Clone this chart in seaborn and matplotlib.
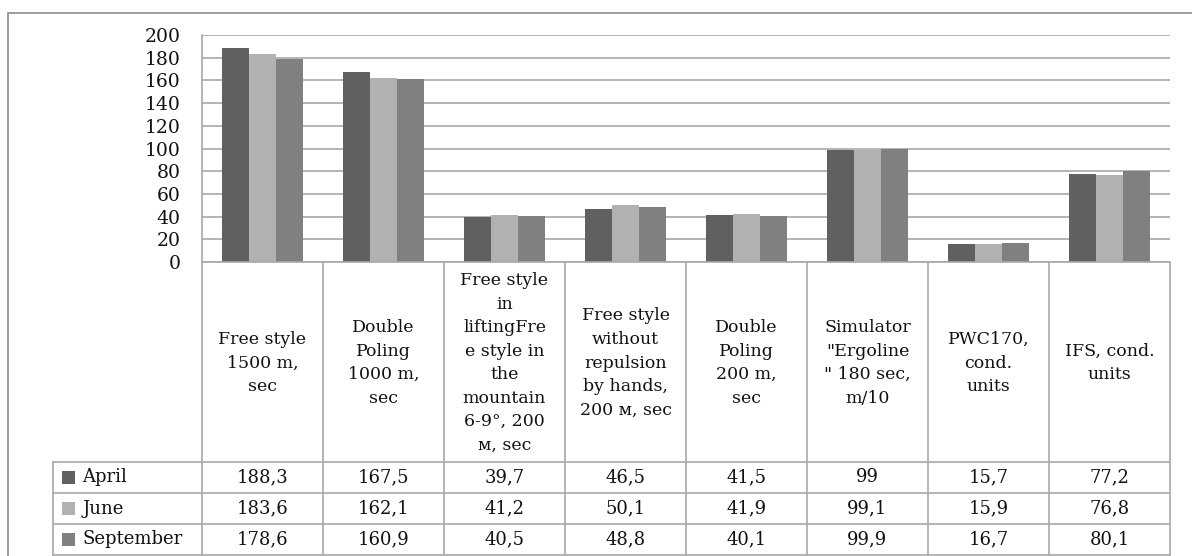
import matplotlib
matplotlib.use("Agg")
import matplotlib.pyplot as plt
import matplotlib.transforms as mtransforms
from matplotlib.patches import Rectangle
import seaborn as sns
import pandas as pd

categories = [
    "Free style\n1500 m,\nsec",
    "Double\nPoling\n1000 m,\nsec",
    "Free style\nin\nliftingFre\ne style in\nthe\nmountain\n6-9°, 200\nм, sec",
    "Free style\nwithout\nrepulsion\nby hands,\n200 м, sec",
    "Double\nPoling\n200 m,\nsec",
    "Simulator\n\"Ergoline\n\" 180 sec,\nm/10",
    "PWC170,\ncond.\nunits",
    "IFS, cond.\nunits",
]
series_names = ["April", "June", "September"]
april = [188.3, 167.5, 39.7, 46.5, 41.5, 99, 15.7, 77.2]
june = [183.6, 162.1, 41.2, 50.1, 41.9, 99.1, 15.9, 76.8]
september = [178.6, 160.9, 40.5, 48.8, 40.1, 99.9, 16.7, 80.1]
y_ticks = [0, 20, 40, 60, 80, 100, 120, 140, 160, 180, 200]

colors = ["#606060", "#b1b1b1", "#808080"]
series_values = [april, june, september]

rows = []
for name, vals in zip(series_names, series_values):
    for i, v in enumerate(vals):
        rows.append({"cat": i, "Month": name, "value": v})
df = pd.DataFrame(rows)

sns.set_theme(style="white")
plt.rcParams["font.family"] = ["DejaVu Serif"]

W, H = 1192, 556
fig = plt.figure(figsize=(W / 100, H / 100), dpi=100)

def fy(px):
    return 1 - px / H

def fx(px):
    return px / W

ax_left, ax_right, ax_top, ax_bottom = 202, 1170, 35, 262
ax = fig.add_axes([fx(ax_left), fy(ax_bottom), fx(ax_right - ax_left), fy(ax_top) - fy(ax_bottom)])

sns.barplot(data=df, x="cat", y="value", hue="Month", hue_order=series_names,
            palette=colors, saturation=1, width=0.67, ax=ax, legend=False,
            errorbar=None, linewidth=0)

ax.set_xlim(-0.5, len(categories) - 0.5)
ax.set_ylim(0, 200)
ax.set_yticks(y_ticks)
ax.set_yticklabels([str(t) for t in y_ticks], fontsize=13.5, color="#111111")
ax.tick_params(axis="y", length=0, pad=15.5)
ax.set_xticks([])
ax.set_xlabel("")
ax.set_ylabel("")
ax.yaxis.grid(True, color="#a8a8a8", linewidth=1.2)
ax.set_axisbelow(True)
for s in ["top", "right", "bottom"]:
    ax.spines[s].set_visible(False)
ax.spines["left"].set_color("#a8a8a8")
ax.spines["left"].set_linewidth(1.2)

# table below the plot
trans = mtransforms.blended_transform_factory(ax.transData, fig.transFigure)
line_kw = dict(color="#a8a8a8", linewidth=1.2, transform=trans, clip_on=False)
n = len(categories)
x0 = -0.5
x_end = n - 0.5
px_per_cat = (ax_right - ax_left) / n
legend_left = x0 - (ax_left - 53) / px_per_cat

cat_top, tab_top = 262, 462
row_lines = [462, 493, 524, 555]

ax.add_line(plt.Line2D([x0, x_end], [fy(cat_top), fy(cat_top)], **line_kw))
for i in range(n + 1):
    xv = x0 + i
    ax.add_line(plt.Line2D([xv, xv], [fy(cat_top), fy(row_lines[-1])], **line_kw))
for r in row_lines:
    ax.add_line(plt.Line2D([legend_left, x_end], [fy(r), fy(r)], **line_kw))
ax.add_line(plt.Line2D([legend_left, legend_left], [fy(tab_top), fy(row_lines[-1])], **line_kw))

for i, lab in enumerate(categories):
    ax.text(i, fy((cat_top + tab_top) / 2 + 1), lab, transform=trans, ha="center",
            va="center", fontsize=12.5, linespacing=1.5, color="#111111", clip_on=False)

for r, (name, vals, c) in enumerate(zip(series_names, series_values, colors)):
    ytop, ybot = row_lines[r], row_lines[r + 1]
    ymid = fy((ytop + ybot) / 2)
    kx = legend_left + 9 / px_per_cat
    ax.add_patch(Rectangle((kx, ymid - 6.5 / H), 13 / px_per_cat, 13 / H,
                           facecolor=c, edgecolor="none", transform=trans, clip_on=False))
    ax.text(legend_left + 29 / px_per_cat, ymid, name, transform=trans, ha="left",
            va="center", fontsize=13, color="#111111", clip_on=False)
    for i, v in enumerate(vals):
        s = (f"{v:g}").replace(".", ",")
        ax.text(i, ymid, s, transform=trans, ha="center", va="center",
                fontsize=13, color="#111111", clip_on=False)

fig.patches.append(Rectangle((fx(8), fy(600)), fx(1200), fy(13) - fy(600),
                             facecolor="none", edgecolor="#8c8c8c", linewidth=1.2,
                             transform=fig.transFigure, figure=fig))

fig.savefig("out.png", dpi=100, facecolor="white")
